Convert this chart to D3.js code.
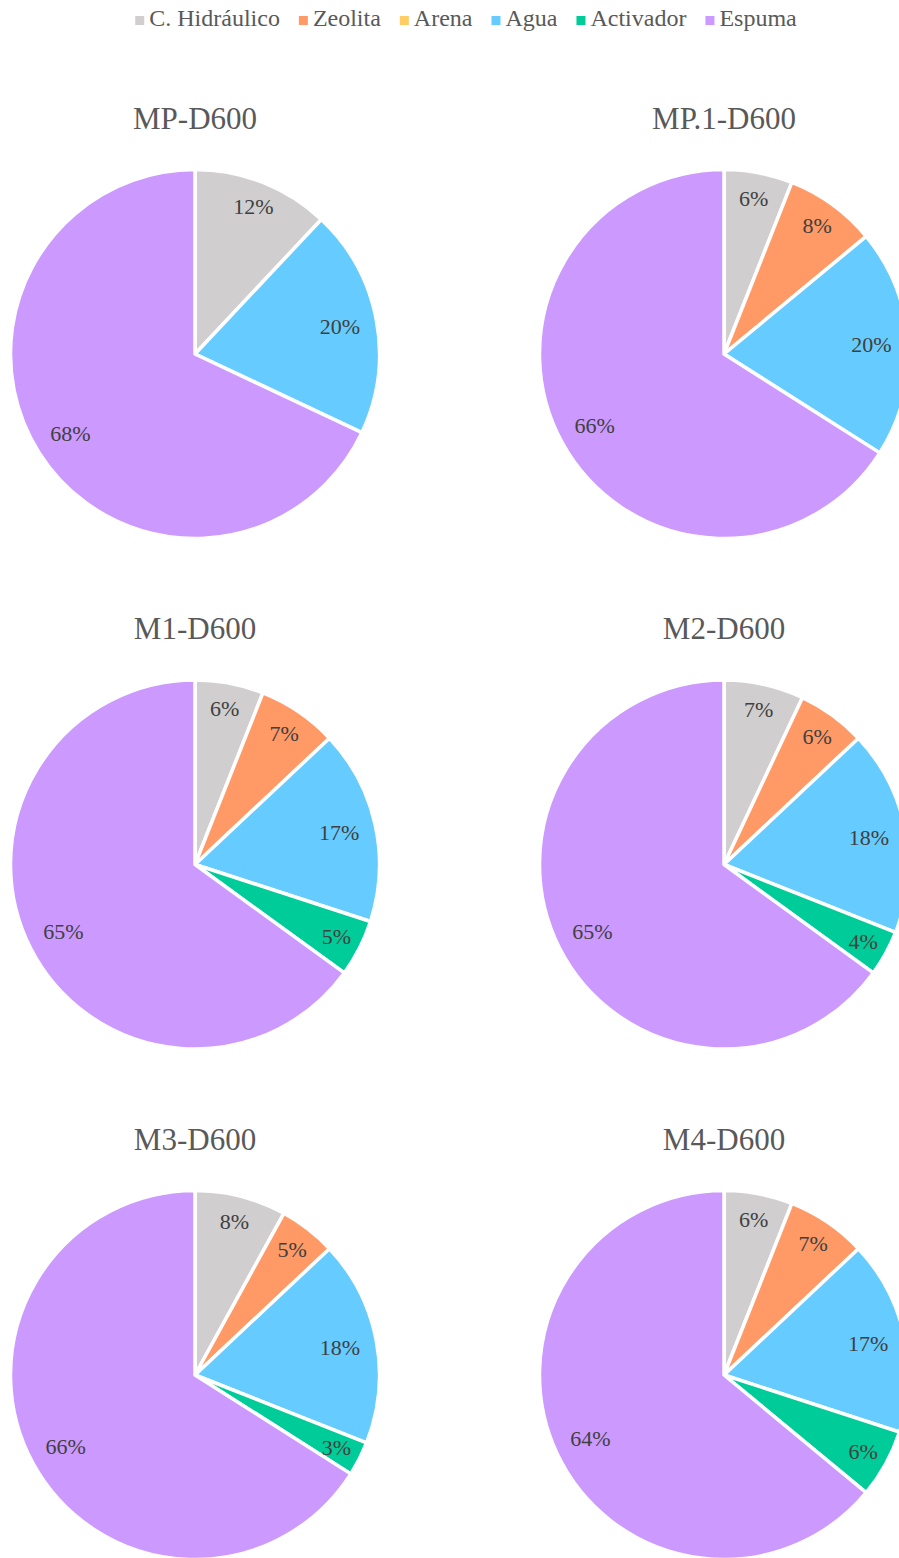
<!DOCTYPE html>
<html>
<head>
<meta charset="utf-8">
<script src="https://cdn.jsdelivr.net/npm/d3@7"></script>
<style>
  body { margin: 0; background: #fff; }
  svg { display: block; }
  svg text { font-family: "Liberation Serif", "Times New Roman", Times, "DejaVu Serif", serif; }
</style>
</head>
<body>
<svg id="chart" width="899" height="1558"></svg>
<script>
const components = ["C. Hidráulico", "Zeolita", "Arena", "Agua", "Activador", "Espuma"];
const colors = ["#D0CECE", "#FF9966", "#FFCC66", "#66CCFF", "#00CC99", "#CC99FF"];
const mixNames = ["MP-D600", "MP.1-D600", "M1-D600", "M2-D600", "M3-D600", "M4-D600"];

// percentages per mix, same order as components
const mpD600  = [12, 0, 0, 20, 0, 68];
const mp1D600 = [6, 8, 0, 20, 0, 66];
const m1D600  = [6, 7, 0, 17, 5, 65];
const m2D600  = [7, 6, 0, 18, 4, 65];
const m3D600  = [8, 5, 0, 18, 3, 66];
const m4D600  = [6, 7, 0, 17, 6, 64];
const mixValues = [mpD600, mp1D600, m1D600, m2D600, m3D600, m4D600];

const svg = d3.select("#chart");
const radius = 184.5;
const colX = [195, 724];
const rowY = [354, 864.5, 1375];
const fontFam = "'Liberation Serif', 'Times New Roman', Times, 'DejaVu Serif', serif";

const color = d3.scaleOrdinal().domain(components).range(colors);

// Legend
const legend = svg.append("g").attr("class", "legend");
let lx = 0;
components.forEach((c, i) => {
    const g = legend.append("g");
    g.append("rect")
        .attr("x", 0).attr("y", -10)
        .attr("width", 9).attr("height", 9)
        .attr("fill", color(c));
    const t = g.append("text")
        .attr("x", 14).attr("y", 0)
        .attr("font-family", fontFam)
        .attr("font-size", 24)
        .attr("fill", "#595959")
        .text(c);
    const w = t.node().getComputedTextLength();
    g.attr("transform", `translate(${lx}, 0)`);
    lx += 14 + w + 19;
});
const legWidth = lx - 19;
legend.attr("transform", `translate(${466 - legWidth / 2}, 26)`);

const pie = d3.pie().sort(null).value(d => d.value);
const arc = d3.arc().innerRadius(0).outerRadius(radius);

mixNames.forEach((name, i) => {
    const cx = colX[i % 2], cy = rowY[Math.floor(i / 2)];
    const g = svg.append("g").attr("transform", `translate(${cx}, ${cy})`);

    const data = components.map((c, j) => ({ name: c, value: mixValues[i][j] }));
    const arcs = pie(data).filter(d => d.data.value > 0);

    g.selectAll("path")
        .data(arcs)
        .enter()
        .append("path")
        .attr("d", arc)
        .attr("fill", d => color(d.data.name))
        .attr("stroke", "#fff")
        .attr("stroke-width", 3.5)
        .attr("stroke-linejoin", "round");

    g.selectAll("text.pct")
        .data(arcs)
        .enter()
        .append("text")
        .attr("class", "pct")
        .attr("transform", d => {
            const a = (d.startAngle + d.endAngle) / 2;
            const r = radius * (d.data.value < 15 ? 0.86 : 0.8);
            return `translate(${Math.sin(a) * r}, ${-Math.cos(a) * r})`;
        })
        .attr("text-anchor", "middle")
        .attr("dy", "0.35em")
        .attr("font-family", fontFam)
        .attr("font-size", 22)
        .attr("fill", "#404040")
        .text(d => d.data.value + "%");

    // Title
    g.append("text")
        .attr("x", 0)
        .attr("y", -radius - 41)
        .attr("text-anchor", "middle")
        .attr("font-family", fontFam)
        .attr("font-size", 31)
        .attr("fill", "#595959")
        .text(name);
});
</script>
</body>
</html>
